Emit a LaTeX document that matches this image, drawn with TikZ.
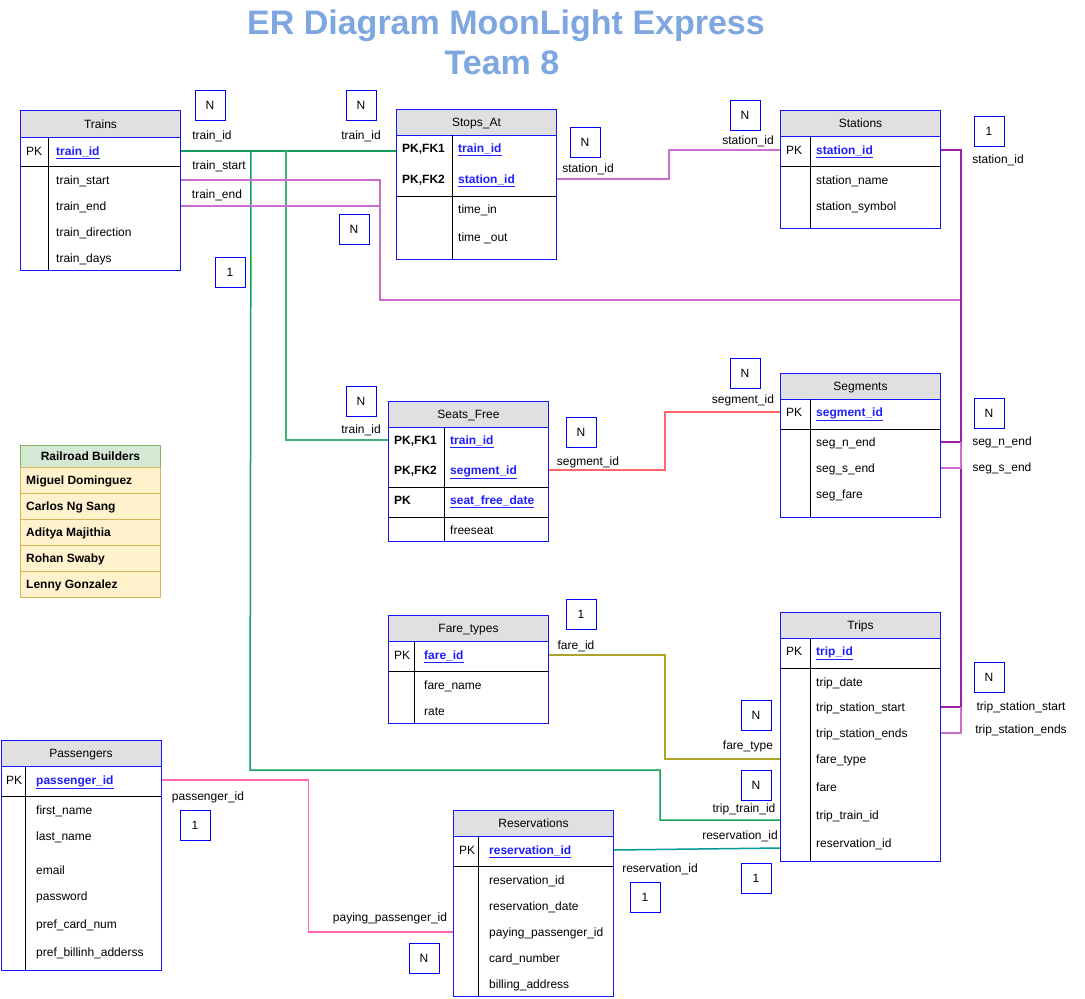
\documentclass[tikz,border=0pt]{standalone}
\usepackage{fontspec}
\setmainfont{Liberation Sans}
\usetikzlibrary{calc}
\definecolor{tblblue}{RGB}{20,20,255}
\definecolor{hdrgray}{RGB}{224,224,224}
\definecolor{pkblue}{RGB}{30,30,255}
\definecolor{titleblue}{RGB}{126,166,224}
\definecolor{bldgreen}{RGB}{213,232,212}
\definecolor{bldgreenline}{RGB}{130,179,102}
\definecolor{bldyellow}{RGB}{255,242,204}
\definecolor{bldyellowline}{RGB}{214,182,86}
\definecolor{lgreen}{RGB}{20,160,90}
\definecolor{lmint}{RGB}{60,180,120}
\definecolor{lorchid}{RGB}{204,110,204}
\definecolor{lplum}{RGB}{160,30,160}
\definecolor{lred}{RGB}{255,102,102}
\definecolor{lolive}{RGB}{170,165,40}
\definecolor{lhot}{RGB}{255,102,179}
\definecolor{lteal}{RGB}{0,153,153}
\begin{document}
\fontsize{12}{14}\selectfont
\begin{tikzpicture}[x=1pt, y=-1pt,
    tbl/.style={draw=tblblue, line width=1pt, inner sep=0pt, anchor=north west, minimum width=160pt},
    hdr/.style={draw=tblblue, fill=hdrgray, line width=1pt, inner sep=0pt, anchor=north west,
        minimum width=160pt, minimum height=26pt, text height=8.6pt, text depth=0pt},
    fld/.style={anchor=west, inner sep=0pt, text height=8.6pt, text depth=0pt},
    keyb/.style={fld, font=\bfseries},
    pkf/.style={fld, text=pkblue, font=\bfseries},
    sep/.style={line width=1pt, black},
    card/.style={draw=blue, line width=1pt, minimum size=30pt, inner sep=0pt, text height=8.6pt, text depth=0pt},
    lbl/.style={inner sep=0pt, text height=8.6pt, text depth=0pt},
    link/.style={line width=1.5pt},
    bld/.style={anchor=north west, line width=1pt, minimum width=140pt, inner sep=0pt,
        text height=8.6pt, text depth=0pt, font=\bfseries}]
    \useasboundingbox (0,0) rectangle (1085,999);
    \fill[white] (0,0) rectangle (1085,999);

    % title
    \node[text=titleblue, font=\fontsize{34}{40}\bfseries\selectfont, text height=24.3pt, text depth=0pt, inner sep=0pt] (title) at (506,22) {ER Diagram MoonLight Express};
    \node[text=titleblue, font=\fontsize{34}{40}\bfseries\selectfont, text height=24.3pt, text depth=0pt, inner sep=0pt] (team) at (502,62) {Team 8};

    % Trains
    \node[hdr, minimum height=27pt] (trains-h) at (20,110) {Trains};
    \node[tbl, minimum height=160pt] (trains) at (20,110) {};
    \draw[sep] (20,166) -- (180,166) (48,137) -- (48,270);
    \node[fld] (trains-pk) at (26,151) {PK};
    \node[pkf] (trains-id) at (56,151) {\underline{train\_id}};
    \foreach \t [count=\i] in {train\_start,train\_end,train\_direction,train\_days}
        \node[fld] (trains-f\i) at (56,154+26*\i) {\t};

    % Stops_At
    \node[hdr] (stops-h) at (396,109) {Stops\_At};
    \node[tbl, minimum height=150pt] (stops) at (396,109) {};
    \draw[sep] (396,196) -- (556,196) (452,135) -- (452,259);
    \node[keyb] (stops-k1) at (402,148) {PK,FK1};
    \node[keyb] (stops-k2) at (402,179) {PK,FK2};
    \node[pkf] (stops-id1) at (458,148) {\underline{train\_id}};
    \node[pkf] (stops-id2) at (458,179) {\underline{station\_id}};
    \node[fld] (stops-f1) at (458,209) {time\_in};
    \node[fld] (stops-f2) at (458,237) {time \_out};

    % Stations
    \node[hdr] (stations-h) at (780,110) {Stations};
    \node[tbl, minimum height=118pt] (stations) at (780,110) {};
    \draw[sep] (780,166) -- (940,166) (810,136) -- (810,228);
    \node[fld] (stations-pk) at (786,150) {PK};
    \node[pkf] (stations-id) at (816,150) {\underline{station\_id}};
    \foreach \t [count=\i] in {station\_name,station\_symbol}
        \node[fld] (stations-f\i) at (816,154+26*\i) {\t};

    % Segments
    \node[hdr] (segments-h) at (780,373) {Segments};
    \node[tbl, minimum height=144pt] (segments) at (780,373) {};
    \draw[sep] (780,429) -- (940,429) (810,399) -- (810,517);
    \node[fld] (segments-pk) at (786,412) {PK};
    \node[pkf] (segments-id) at (816,412) {\underline{segment\_id}};
    \foreach \t [count=\i] in {seg\_n\_end,seg\_s\_end,seg\_fare}
        \node[fld] (segments-f\i) at (816,416+26*\i) {\t};

    % Seats_Free
    \node[hdr] (seats-h) at (388,401) {Seats\_Free};
    \node[tbl, minimum height=140pt] (seats) at (388,401) {};
    \draw[sep] (388,487) -- (548,487) (388,517) -- (548,517) (444,427) -- (444,541);
    \node[keyb] (seats-k1) at (394,440) {PK,FK1};
    \node[keyb] (seats-k2) at (394,470) {PK,FK2};
    \node[keyb] (seats-k3) at (394,500) {PK};
    \node[pkf] (seats-id1) at (450,440) {\underline{train\_id}};
    \node[pkf] (seats-id2) at (450,470) {\underline{segment\_id}};
    \node[pkf] (seats-id3) at (450,500) {\underline{seat\_free\_date}};
    \node[fld] (seats-f1) at (450,530) {freeseat};

    % Fare_types
    \node[hdr] (fares-h) at (388,615) {Fare\_types};
    \node[tbl, minimum height=108pt] (fares) at (388,615) {};
    \draw[sep] (388,671) -- (548,671) (414,641) -- (414,723);
    \node[fld] (fares-pk) at (394,655) {PK};
    \node[pkf] (fares-id) at (424,655) {\underline{fare\_id}};
    \foreach \t [count=\i] in {fare\_name,rate}
        \node[fld] (fares-f\i) at (424,659+26*\i) {\t};

    % Trips
    \node[hdr] (trips-h) at (780,612) {Trips};
    \node[tbl, minimum height=249pt] (trips) at (780,612) {};
    \draw[sep] (780,668) -- (940,668) (810,638) -- (810,861);
    \node[fld] (trips-pk) at (786,651) {PK};
    \node[pkf] (trips-id) at (816,651) {\underline{trip\_id}};
    \foreach \y/\t [count=\i] in {682/trip\_date,707/trip\_station\_start,733/trip\_station\_ends,
        759/fare\_type,787/fare,815/trip\_train\_id,843/reservation\_id}
        \node[fld] (trips-f\i) at (816,\y) {\t};

    % Passengers
    \node[hdr] (passengers-h) at (0.5,740) {Passengers};
    \node[tbl, minimum height=230pt] (passengers) at (0.5,740) {};
    \draw[sep] (0.5,796) -- (160.5,796) (25,766) -- (25,970);
    \node[fld] (passengers-pk) at (6,780) {PK};
    \node[pkf] (passengers-id) at (36,780) {\underline{passenger\_id}};
    \foreach \y/\t [count=\i] in {810/first\_name,836/last\_name,870/email,896/password,
        924/pref\_card\_num,952/pref\_billinh\_adderss}
        \node[fld] (passengers-f\i) at (36,\y) {\t};

    % Reservations
    \node[hdr] (res-h) at (453,810) {Reservations};
    \node[tbl, minimum height=186pt] (res) at (453,810) {};
    \draw[sep] (453,866) -- (613,866) (478,836) -- (478,996);
    \node[fld] (res-pk) at (459,850) {PK};
    \node[pkf] (res-id) at (489,850) {\underline{reservation\_id}};
    \foreach \t [count=\i] in {reservation\_id,reservation\_date,paying\_passenger\_id,card\_number,billing\_address}
        \node[fld] (res-f\i) at (489,854+26*\i) {\t};

    % Railroad Builders
    \node[bld, draw=bldgreenline, fill=bldgreen, minimum height=22pt] (builders) at (20,445) {Railroad Builders};
    \foreach \t [count=\i] in {Miguel Dominguez,Carlos Ng Sang,Aditya Majithia,Rohan Swaby,Lenny Gonzalez}{
        \node[bld, draw=bldyellowline, fill=bldyellow, minimum height=26pt] (builder\i) at (20,441+26*\i) {};
        \node[fld, font=\bfseries] (builder\i-name) at (26,454+26*\i) {\t};
    }

    % connectors
    \draw[link, lgreen] (trains-id -| trains.east) -- (trains-id -| stops.west);
    \draw[link, lmint] (trains-id -| trains.east) ++(105,0) |- (seats-id1 -| seats.west);
    \draw[link, lgreen] (trains-id -| trains.east) ++(70,0) -- (250,770) -- (660,770)
        |- ($(trips-f6 -| trips.west)+(0,5)$);
    \draw[link, lorchid] (stops-id2 -| stops.east) -- ++(112,0) |- (stations-id -| stations.west);
    \draw[link, lorchid] (trains-f1 -| trains.east) -| (380,300) -- (960,300);
    \draw[link, lorchid] (trains-f2 -| trains.east) -- ++(200,0);
    \draw[link, lplum] (stations-id -| stations.east) -- ++(20,0) |- (trips-f2 -| trips.east);
    \draw[link, lplum] (segments-f1 -| segments.east) -- ++(20,0);
    \draw[link, lorchid] (segments-f2 -| segments.east) -- ++(20,0) -- ++(0,-26);
    \draw[link, lorchid] (trips-f3 -| trips.east) -- ++(20,0) -- ++(0,-26);
    \draw[link, lred] (seats-id2 -| seats.east) -- ++(116,0) |- (segments-id -| segments.west);
    \draw[link, lolive] (fares-id -| fares.east) -- ++(116,0) |- (trips-f4 -| trips.west);
    \draw[link, lhot] (passengers-id -| passengers.east) -- ++(147,0) |- (res-f3 -| res.west);
    \draw[link, lteal] (res-id -| res.east) -- ($(trips-f7 -| trips.west)+(0,5)$);

    % labels
    \node[lbl] (l-tr-id) at (212,135) {train\_id};
    \node[lbl] (l-tr-start) at (219,165) {train\_start};
    \node[lbl] (l-tr-end) at (217,194) {train\_end};
    \node[lbl] (l-st-train) at (361,135) {train\_id};
    \node[lbl] (l-st-station) at (588,168) {station\_id};
    \node[lbl] (l-sn-in) at (748,140) {station\_id};
    \node[lbl] (l-sn-out) at (998,159) {station\_id};
    \node[lbl] (l-sf-train) at (361,429) {train\_id};
    \node[lbl] (l-sf-seg) at (588,461) {segment\_id};
    \node[lbl] (l-sg-id) at (743,399) {segment\_id};
    \node[lbl] (l-sg-n) at (1002,441) {seg\_n\_end};
    \node[lbl] (l-sg-s) at (1002,467) {seg\_s\_end};
    \node[lbl] (l-fare-id) at (576,645) {fare\_id};
    \node[lbl] (l-tp-fare) at (748,745) {fare\_type};
    \node[lbl] (l-tp-train) at (744,808) {trip\_train\_id};
    \node[lbl] (l-tp-res) at (740,835) {reservation\_id};
    \node[lbl] (l-rs-id) at (660,868) {reservation\_id};
    \node[lbl] (l-tp-start) at (1021,706) {trip\_station\_start};
    \node[lbl] (l-tp-ends) at (1021,729) {trip\_station\_ends};
    \node[lbl] (l-ps-id) at (208,796) {passenger\_id};
    \node[lbl] (l-rs-pay) at (390,917) {paying\_passenger\_id};

    % cardinalities
    \node[card] (c-tr-n) at (210,105) {N};
    \node[card] (c-st-n) at (361,105) {N};
    \node[card] (c-tr-end) at (354,229) {N};
    \node[card] (c-tr-one) at (230,272) {1};
    \node[card] (c-st-station) at (585,142) {N};
    \node[card] (c-sn-n) at (745,115) {N};
    \node[card] (c-sn-one) at (989,131) {1};
    \node[card] (c-sf-train) at (361,401) {N};
    \node[card] (c-sf-seg) at (581,432) {N};
    \node[card] (c-sg-n) at (745,373) {N};
    \node[card] (c-sg-ends) at (989,413) {N};
    \node[card] (c-fare-one) at (581,614) {1};
    \node[card] (c-tp-fare) at (756,715) {N};
    \node[card] (c-tp-train) at (756,785) {N};
    \node[card] (c-tp-stat) at (989,677) {N};
    \node[card] (c-tp-res) at (756,878) {1};
    \node[card] (c-rs-one) at (645,897) {1};
    \node[card] (c-ps-one) at (195,825) {1};
    \node[card] (c-rs-pay) at (424,958) {N};
\end{tikzpicture}
\end{document}
